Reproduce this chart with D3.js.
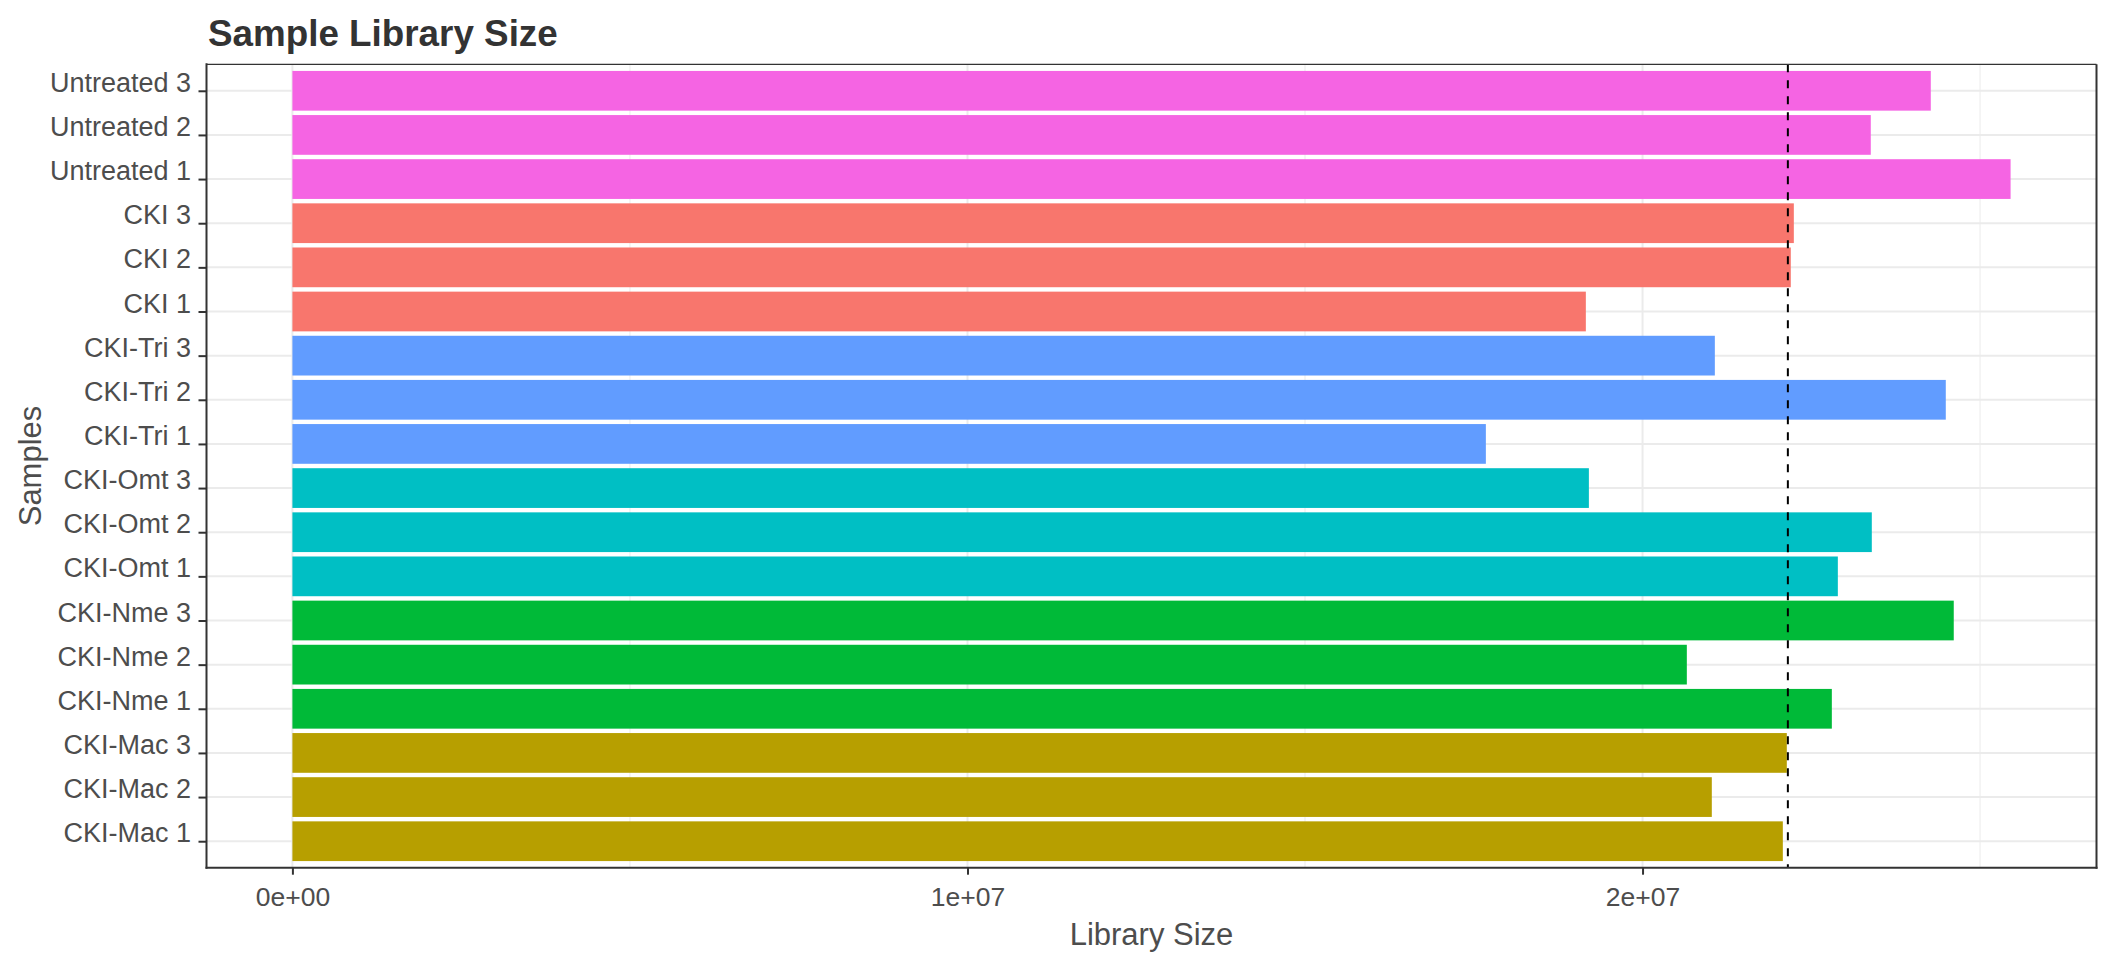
<!DOCTYPE html>
<html>
<head>
<meta charset="utf-8">
<script src="https://cdn.jsdelivr.net/npm/d3@7"></script>
<style>
  html, body { margin: 0; padding: 0; background: #ffffff; }
  svg { display: block; }
  text { font-family: "Liberation Sans", Arial, Helvetica, sans-serif; }
</style>
</head>
<body>
<svg id="chart" width="2112" height="960"></svg>
<script>
// ---- data (bottom-to-top order as plotted) ----
const samples = [
  "CKI-Mac 1", "CKI-Mac 2", "CKI-Mac 3",
  "CKI-Nme 1", "CKI-Nme 2", "CKI-Nme 3",
  "CKI-Omt 1", "CKI-Omt 2", "CKI-Omt 3",
  "CKI-Tri 1", "CKI-Tri 2", "CKI-Tri 3",
  "CKI 1", "CKI 2", "CKI 3",
  "Untreated 1", "Untreated 2", "Untreated 3"
];
const sampleGroups = [
  "CKI-Mac", "CKI-Mac", "CKI-Mac",
  "CKI-Nme", "CKI-Nme", "CKI-Nme",
  "CKI-Omt", "CKI-Omt", "CKI-Omt",
  "CKI-Tri", "CKI-Tri", "CKI-Tri",
  "CKI", "CKI", "CKI",
  "Untreated", "Untreated", "Untreated"
];
const librarySizes = [
  22078000, 21026000, 22137000,
  22804000, 20656000, 24610000,
  22893000, 23396000, 19205000,
  17679000, 24492000, 21071000,
  19160000, 22196000, 22241000,
  25452000, 23381000, 24270000
];
const groupNames  = ["CKI", "CKI-Mac", "CKI-Nme", "CKI-Omt", "CKI-Tri", "Untreated"];
const groupColors = ["#F8766D", "#B79F00", "#00BA38", "#00BFC4", "#619CFF", "#F564E3"];
const xMajorTicks = [0, 1e7, 2e7];
const xTickLabels = ["0e+00", "1e+07", "2e+07"];
const xMinorTicks = [5e6, 1.5e7, 2.5e7];
const chartTitle = "Sample Library Size";
const xTitle = "Library Size";
const yTitle = "Samples";

// ---- layout ----
const panel = { left: 206.5, right: 2096.5, top: 64.3, bottom: 867.7 };
const svg = d3.select("#chart");

const maxVal = d3.max(librarySizes);
const x = d3.scaleLinear()
  .domain([-0.05 * maxVal, 1.05 * maxVal])
  .range([panel.left, panel.right]);

const y = d3.scalePoint()
  .domain(samples)
  .range([panel.bottom, panel.top])
  .padding(0.6);
const step = y.step();
const barH = step * 0.9;

const color = d3.scaleOrdinal().domain(groupNames).range(groupColors);

const data = samples.map((s, i) => ({ sample: s, group: sampleGroups[i], value: librarySizes[i] }));
const meanVal = d3.mean(librarySizes);

// ---- gridlines ----
const grid = svg.append("g");
grid.selectAll("line.minor").data(xMinorTicks).join("line")
  .attr("x1", d => x(d)).attr("x2", d => x(d))
  .attr("y1", panel.top).attr("y2", panel.bottom)
  .attr("stroke", "#EBEBEB").attr("stroke-width", 1);
grid.selectAll("line.majorx").data(xMajorTicks).join("line")
  .attr("x1", d => x(d)).attr("x2", d => x(d))
  .attr("y1", panel.top).attr("y2", panel.bottom)
  .attr("stroke", "#EBEBEB").attr("stroke-width", 2);
grid.selectAll("line.majory").data(samples).join("line")
  .attr("x1", panel.left).attr("x2", panel.right)
  .attr("y1", d => y(d)).attr("y2", d => y(d))
  .attr("stroke", "#EBEBEB").attr("stroke-width", 2);

// ---- bars ----
svg.append("g").selectAll("rect").data(data).join("rect")
  .attr("x", x(0))
  .attr("y", d => y(d.sample) - barH / 2)
  .attr("width", d => x(d.value) - x(0))
  .attr("height", barH)
  .attr("fill", d => color(d.group));

// ---- mean line ----
svg.append("line")
  .attr("x1", x(meanVal)).attr("x2", x(meanVal))
  .attr("y1", panel.top).attr("y2", panel.bottom)
  .attr("stroke", "#000").attr("stroke-width", 2)
  .attr("stroke-dasharray", "8,8");

// ---- panel border ----
svg.append("line").attr("x1", panel.left).attr("x2", panel.right)
  .attr("y1", panel.top).attr("y2", panel.top)
  .attr("stroke", "#333").attr("stroke-width", 1.2);
svg.append("line").attr("x1", panel.right).attr("x2", panel.right)
  .attr("y1", panel.top).attr("y2", panel.bottom + 1)
  .attr("stroke", "#333").attr("stroke-width", 2);

// ---- axes ----
const xAxis = d3.axisBottom(x)
  .tickValues(xMajorTicks)
  .tickFormat((d, i) => xTickLabels[i])
  .tickSize(7).tickPadding(12);
const gx = svg.append("g").attr("transform", `translate(0,${panel.bottom})`).call(xAxis);
gx.select(".domain").attr("stroke", "#333").attr("stroke-width", 2)
  .attr("d", `M${panel.left - 1},0H${panel.right + 1}`);
gx.selectAll(".tick line").attr("stroke", "#333").attr("stroke-width", 2);
gx.selectAll(".tick text").attr("fill", "#4D4D4D").style("font-size", "26.5px")
  .style("font-family", "'Liberation Sans', Arial, sans-serif");

const yAxis = d3.axisLeft(y).tickSize(8).tickPadding(7.4);
const gy = svg.append("g").attr("transform", `translate(${panel.left},0)`).call(yAxis);
gy.select(".domain").attr("stroke", "#333").attr("stroke-width", 2)
  .attr("d", `M0,${panel.top - 1}V${panel.bottom + 1}`);
gy.selectAll(".tick line").attr("stroke", "#333").attr("stroke-width", 2);
gy.selectAll(".tick text").attr("fill", "#4D4D4D").style("font-size", "27px")
  .attr("dy", "0.02em")
  .style("font-family", "'Liberation Sans', Arial, sans-serif");

// ---- titles ----
svg.append("text")
  .attr("x", 208).attr("y", 45.7)
  .attr("fill", "#333333")
  .style("font-size", "36.8px").style("font-weight", "bold")
  .text(chartTitle);

svg.append("text")
  .attr("x", (panel.left + panel.right) / 2).attr("y", 945)
  .attr("text-anchor", "middle")
  .attr("fill", "#4D4D4D")
  .style("font-size", "31px")
  .text(xTitle);

svg.append("text")
  .attr("transform", `translate(40.5,${(panel.top + panel.bottom) / 2}) rotate(-90)`)
  .attr("text-anchor", "middle")
  .attr("fill", "#4D4D4D")
  .style("font-size", "31px")
  .text(yTitle);
</script>
</body>
</html>
